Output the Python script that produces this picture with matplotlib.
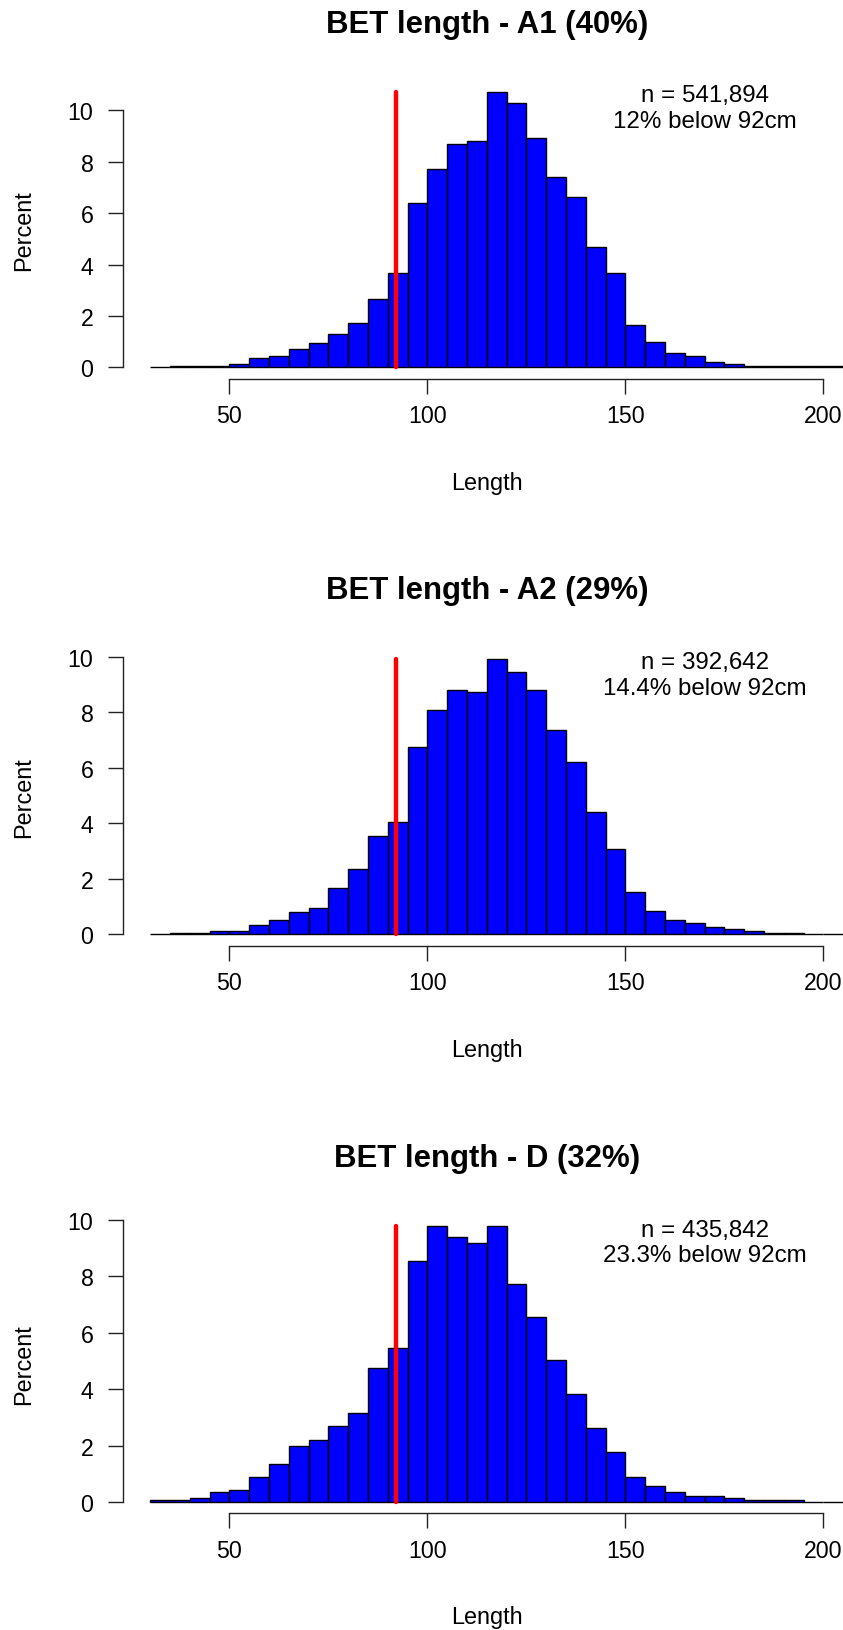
import matplotlib
matplotlib.use("Agg")
import matplotlib.pyplot as plt

plt.rcParams['font.family'] = ['Liberation Sans', 'DejaVu Sans']

# 5 cm length classes, left edges
bin_left = [30, 35, 40, 45, 50, 55, 60, 65, 70, 75, 80, 85, 90, 95, 100, 105, 110,
            115, 120, 125, 130, 135, 140, 145, 150, 155, 160, 165, 170, 175, 180,
            185, 190, 195, 200]

pct_a1 = [0.0, 0.06, 0.06, 0.06, 0.14, 0.35, 0.45, 0.73, 0.95, 1.30, 1.72, 2.66,
          3.68, 6.41, 7.71, 8.70, 8.80, 10.73, 10.30, 8.92, 7.42, 6.63, 4.69, 3.69,
          1.66, 1.00, 0.58, 0.43, 0.21, 0.13, 0.06, 0.04, 0.04, 0.04, 0.04]
pct_a2 = [0.0, 0.06, 0.06, 0.12, 0.12, 0.34, 0.53, 0.80, 0.94, 1.67, 2.34, 3.53,
          4.06, 6.73, 8.06, 8.79, 8.73, 9.93, 9.46, 8.79, 7.35, 6.21, 4.40, 3.07,
          1.52, 0.86, 0.52, 0.40, 0.28, 0.19, 0.13, 0.06, 0.06, 0.0, 0.0]
pct_d = [0.08, 0.08, 0.15, 0.34, 0.42, 0.88, 1.33, 1.98, 2.19, 2.70, 3.17, 4.74,
         5.45, 8.54, 9.79, 9.39, 9.19, 9.79, 7.74, 6.57, 5.05, 3.83, 2.64, 1.78,
         0.90, 0.55, 0.34, 0.21, 0.21, 0.14, 0.07, 0.07, 0.07, 0.0, 0.0]

groups = ['A1', 'A2', 'D']
shares = ['40%', '29%', '32%']
n_fish = [541894, 392642, 435842]
below = ['12%', '14.4%', '23.3%']
series = [pct_a1, pct_a2, pct_d]

cutoff = 92
bin_w = 5

W, H = 843, 1631
fig = plt.figure(figsize=(W / 100, H / 100), dpi=100)

# bottom edge (pixels from top) of each plot region
bottoms = [379.5, 946.5, 1514.0]
ax_h = 298.0
ax_left = 123.3
ax_w = 727.0

for i in range(3):
    vals = series[i]
    top = max(vals)
    ax = fig.add_axes([ax_left / W, 1 - bottoms[i] / H, ax_w / W, ax_h / H])
    ax.bar(bin_left, vals, width=bin_w, align='edge', color='#0000FF',
           edgecolor='black', linewidth=1.0, zorder=2)
    ax.plot([cutoff, cutoff], [0, top], color='#FF0000', lw=3.2,
            solid_capstyle='round', zorder=3)

    ax.set_xlim(23.2, 206.8)
    ax.set_ylim(-0.04 * top, 1.04 * top)

    for s in ['top', 'right']:
        ax.spines[s].set_visible(False)
    ax.spines['left'].set_bounds(0, 10)
    ax.spines['bottom'].set_bounds(50, 200)
    for s in ['left', 'bottom']:
        ax.spines[s].set_linewidth(1.0)
        ax.spines[s].set_color('#222222')

    ax.set_xticks([50, 100, 150, 200])
    ax.set_yticks([0, 2, 4, 6, 8, 10])
    ax.tick_params(axis='both', direction='out', length=10.5, width=1.0,
                   color='#222222', labelsize=16.7)
    ax.tick_params(axis='y', pad=11)
    ax.tick_params(axis='x', pad=8)

    ax.set_xlabel('Length', fontsize=16.9)
    ax.xaxis.set_label_coords(0.5, -104 / ax_h)
    ax.xaxis.label.set_va('center')
    ax.set_ylabel('Percent', fontsize=16.9)
    ax.yaxis.set_label_coords(-100 / ax_w, 0.5)
    ax.yaxis.label.set_va('center')

    ax.text(0.5, 1 + 57 / ax_h, f'BET length - {groups[i]} ({shares[i]})',
            transform=ax.transAxes, ha='center', va='center',
            fontsize=22.4, fontweight='bold')

    ax.annotate(f'n = {n_fish[i]:,}\n{below[i]} below {cutoff}cm',
                xy=(170, top), xytext=(0, -16.6), textcoords='offset pixels',
                ha='center', va='center', fontsize=17.4, linespacing=1.2)

fig.savefig('out.png', dpi=100)
